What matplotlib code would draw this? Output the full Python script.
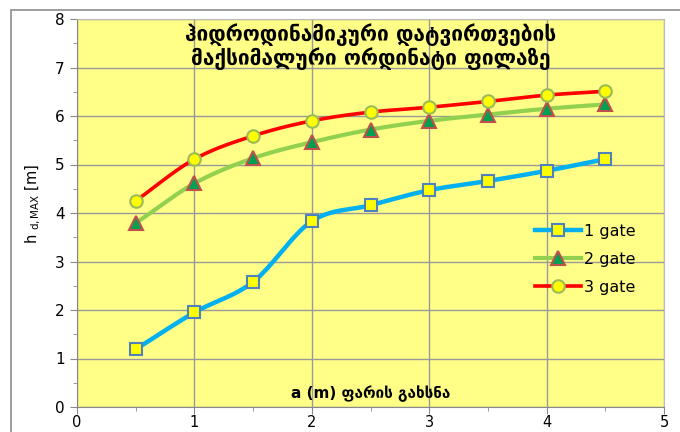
import numpy as np
import matplotlib
matplotlib.use("Agg")
import matplotlib.pyplot as plt
from matplotlib.patches import Rectangle
from matplotlib.lines import Line2D

x_vals = [0.5, 1.0, 1.5, 2.0, 2.5, 3.0, 3.5, 4.0, 4.5]
gate1 = [1.19, 1.95, 2.58, 3.83, 4.16, 4.47, 4.66, 4.87, 5.11]
gate2 = [3.79, 4.61, 5.13, 5.46, 5.72, 5.90, 6.03, 6.15, 6.24]
gate3 = [4.25, 5.11, 5.59, 5.90, 6.08, 6.18, 6.30, 6.43, 6.51]
series_names = ["1 gate", "2 gate", "3 gate"]
title_text = "ჰიდროდინამიკური დატვირთვების\nმაქსიმალური ორდინატი ფილაზე"
xlabel_text = "a (m) ფარის გახსნა"
ylabel_text = r"h $\mathregular{_{d,MAX}}$ [m]"


def smooth(xs, ys, n=20):
    # Catmull-Rom style smoothing (rendering only, like Excel smoothed lines)
    xs = np.asarray(xs, float)
    ys = np.asarray(ys, float)
    px = np.concatenate([[2 * xs[0] - xs[1]], xs, [2 * xs[-1] - xs[-2]]])
    py = np.concatenate([[2 * ys[0] - ys[1]], ys, [2 * ys[-1] - ys[-2]]])
    ox, oy = [], []
    t = np.linspace(0, 1, n, endpoint=False)
    for i in range(1, len(px) - 2):
        for arr, out in ((px, ox), (py, oy)):
            p0, p1, p2, p3 = arr[i - 1], arr[i], arr[i + 1], arr[i + 2]
            out.extend(0.5 * ((2 * p1) + (-p0 + p2) * t +
                              (2 * p0 - 5 * p1 + 4 * p2 - p3) * t ** 2 +
                              (-p0 + 3 * p1 - 3 * p2 + p3) * t ** 3))
    ox.append(xs[-1])
    oy.append(ys[-1])
    return np.array(ox), np.array(oy)


fig = plt.figure(figsize=(6.8, 4.32), dpi=100)
fig.patch.set_facecolor("white")
fig.patches.append(Rectangle((11 / 680, -0.1), 1.2, (432 - 10) / 432 + 0.1,
                             transform=fig.transFigure, fill=False,
                             edgecolor="#8c8c8c", linewidth=1.2))

ax = fig.add_axes([77 / 680, 25 / 432, (664 - 77) / 680, (407 - 19) / 432])
ax.set_facecolor("#FFFF88")
ax.set_xlim(0, 5)
ax.set_ylim(0, 8)
ax.set_xticks(range(0, 6))
ax.set_yticks(range(0, 9))
ax.set_xticks(np.arange(0.5, 5, 1), minor=True)
ax.set_yticks(np.arange(0.5, 8, 1), minor=True)
ax.grid(True, which="major", color="#999999", linewidth=1.0)
ax.set_axisbelow(True)
for s in ["top", "right"]:
    ax.spines[s].set_color("#bbbbbb")
for s in ["left", "bottom"]:
    ax.spines[s].set_color("#888888")
ax.tick_params(axis="both", which="major", direction="out", length=5,
               color="#888888", labelsize=11, pad=4)
ax.tick_params(axis="both", which="minor", direction="out", length=3,
               color="#888888")
ax.tick_params(axis="x", pad=1, labelsize=10.5)

styles = [
    dict(lc="#00B0F0", marker="s", mfc="#FFFF00", mec="#4F81BD", ms=9, lw=3.2),
    dict(lc="#92D050", marker="^", mfc="#00A050", mec="#C0504D", ms=10, lw=3.0),
    dict(lc="#FF0000", marker="o", mfc="#FFFF00", mec="#9BBB59", ms=9, lw=2.6),
]
handles = []
for ys, st, name in zip([gate1, gate2, gate3], styles, series_names):
    sx, sy = smooth(x_vals, ys)
    ax.plot(sx, sy, color=st["lc"], lw=st["lw"], solid_capstyle="round", zorder=3)
    ax.plot(x_vals, ys, linestyle="none", marker=st["marker"], ms=st["ms"],
            mfc=st["mfc"], mec=st["mec"], mew=1.5, zorder=4)
    handles.append(Line2D([], [], color=st["lc"], lw=st["lw"], marker=st["marker"],
                          ms=st["ms"], mfc=st["mfc"], mec=st["mec"], mew=1.5,
                          label=name))

leg = ax.legend(handles=handles, loc="upper left", bbox_to_anchor=(0.769, 0.488),
                frameon=False, fontsize=11.5, handlelength=2.9, labelspacing=0.8,
                handletextpad=0.2, borderaxespad=0)

ax.text(0.5, 0.99, title_text, transform=ax.transAxes, ha="center", va="top",
        fontsize=15, fontweight="bold", family=["DejaVu Sans"], linespacing=1.1)
ax.text(0.5, 0.035, xlabel_text, transform=ax.transAxes, ha="center", va="center",
        fontsize=11, fontweight="bold", family=["DejaVu Sans"])
fig.text(33 / 680, 1 - 204 / 432, ylabel_text, rotation=90, ha="center",
         va="center", fontsize=10.5)

fig.savefig("out.png", dpi=100)
